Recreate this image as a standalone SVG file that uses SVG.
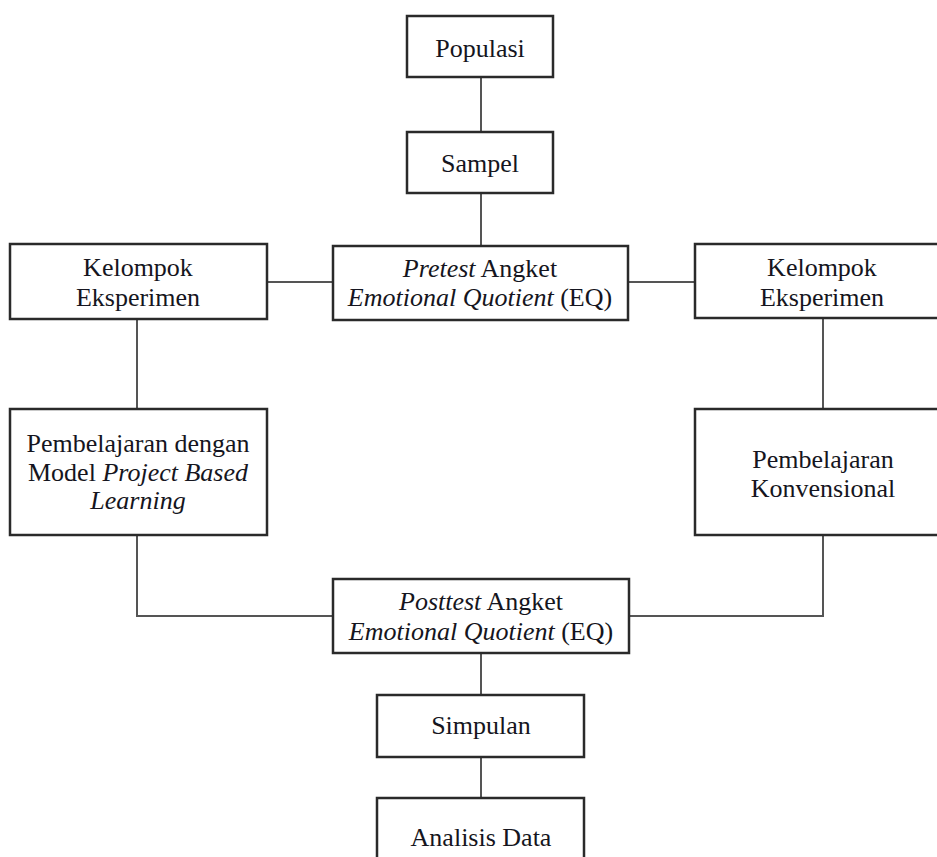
<svg xmlns="http://www.w3.org/2000/svg" width="937" height="857" viewBox="0 0 937 857">
<style>
  .box { fill: #ffffff; stroke: #2a2a2a; stroke-width: 2.5; }
  .conn { fill: none; stroke: #555555; stroke-width: 2; }
  text { font-family: "Liberation Serif", "Times New Roman", serif; font-size: 26px; fill: #151520; text-anchor: middle; }
  .i { font-style: italic; }
</style>
<rect width="937" height="857" fill="#ffffff"/>
<g id="connectors">
  <line class="conn" x1="481" y1="77" x2="481" y2="132"/>
  <line class="conn" x1="481" y1="193" x2="481" y2="246"/>
  <line class="conn" x1="267" y1="282" x2="333" y2="282"/>
  <line class="conn" x1="628" y1="282" x2="695" y2="282"/>
  <line class="conn" x1="137" y1="319" x2="137" y2="409"/>
  <line class="conn" x1="823" y1="318" x2="823" y2="409"/>
  <polyline class="conn" points="137,535 137,616 333,616"/>
  <polyline class="conn" points="823,535 823,616 629,616"/>
  <line class="conn" x1="481" y1="653" x2="481" y2="695"/>
  <line class="conn" x1="481" y1="757" x2="481" y2="798"/>
</g>
<g id="populasi">
  <rect class="box" x="407" y="16" width="146" height="61"/>
  <text x="480" y="57">Populasi</text>
</g>
<g id="sampel">
  <rect class="box" x="407" y="132" width="146" height="61"/>
  <text x="480" y="172">Sampel</text>
</g>
<g id="pretest">
  <rect class="box" x="333" y="246" width="295" height="74"/>
  <text x="480" y="277"><tspan class="i">Pretest</tspan> Angket</text>
  <text x="480" y="306"><tspan class="i">Emotional Quotient</tspan> (EQ)</text>
</g>
<g id="kelompok-kiri">
  <rect class="box" x="10" y="244" width="257" height="75"/>
  <text x="138" y="276">Kelompok</text>
  <text x="138" y="306">Eksperimen</text>
</g>
<g id="kelompok-kanan">
  <rect class="box" x="695" y="244" width="260" height="74"/>
  <text x="822" y="276">Kelompok</text>
  <text x="822" y="306">Eksperimen</text>
</g>
<g id="pbl">
  <rect class="box" x="10" y="409" width="257" height="126"/>
  <text x="138" y="452">Pembelajaran dengan</text>
  <text x="138" y="481">Model <tspan class="i">Project Based</tspan></text>
  <text x="138" y="509" class="i">Learning</text>
</g>
<g id="konvensional">
  <rect class="box" x="695" y="409" width="260" height="126"/>
  <text x="823" y="468">Pembelajaran</text>
  <text x="823" y="497">Konvensional</text>
</g>
<g id="posttest">
  <rect class="box" x="333" y="579" width="296" height="74"/>
  <text x="481" y="610"><tspan class="i">Posttest</tspan> Angket</text>
  <text x="481" y="640"><tspan class="i">Emotional Quotient</tspan> (EQ)</text>
</g>
<g id="simpulan">
  <rect class="box" x="377" y="695" width="207" height="62"/>
  <text x="481" y="734">Simpulan</text>
</g>
<g id="analisis">
  <rect class="box" x="377" y="798" width="207" height="80"/>
  <text x="481" y="846">Analisis Data</text>
</g>
</svg>
